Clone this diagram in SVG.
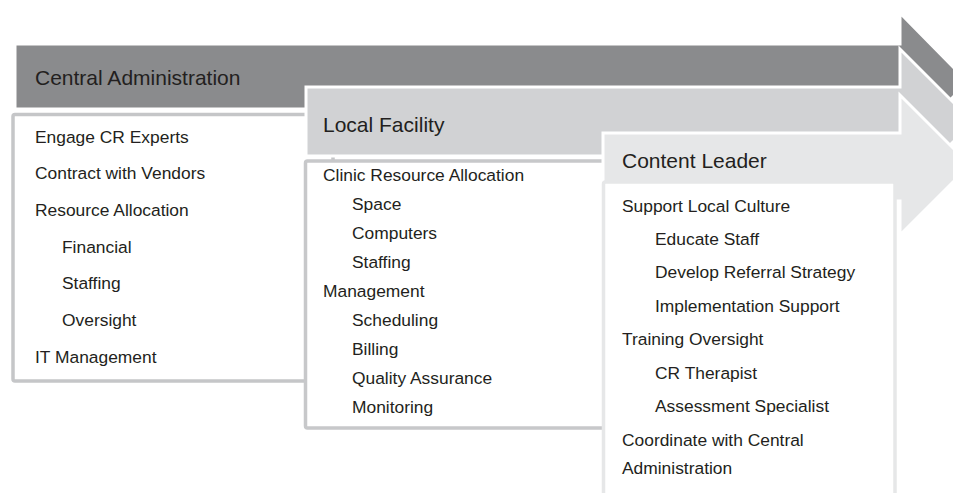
<svg xmlns="http://www.w3.org/2000/svg" width="953" height="493" viewBox="0 0 953 493">
<style>
.hdr{font-family:"Liberation Sans",Arial,sans-serif;font-size:21px;fill:#231f20}
.itm{font-family:"Liberation Sans",Arial,sans-serif;font-size:17.4px;fill:#231f20}
.arrow{stroke:#fff;stroke-width:3;stroke-linejoin:miter}
.box{fill:#fff;stroke-width:3.5}
</style>
<rect width="953" height="493" fill="#fff"/>
<g id="central-administration">
<path class="arrow" d="M15,44 H900 V13 L968,82 L900,151 V109 H15 Z" fill="#8a8b8d"/>
<text class="hdr" x="35" y="85">Central Administration</text>
<rect class="box" x="13" y="114.5" width="320" height="266.5" rx="2" stroke="#c5c6c8"/>
<text class="itm" x="35" y="142.5">Engage CR Experts</text>
<text class="itm" x="35" y="179.2">Contract with Vendors</text>
<text class="itm" x="35" y="215.9">Resource Allocation</text>
<text class="itm" x="62" y="252.6">Financial</text>
<text class="itm" x="62" y="289.3">Staffing</text>
<text class="itm" x="62" y="326">Oversight</text>
<text class="itm" x="35" y="362.7">IT Management</text>
</g>
<g id="local-facility">
<path class="arrow" d="M306,87 H900 V49 L973,122 L900,195 V156 H306 Z" fill="#d1d2d4"/>
<text class="hdr" x="323" y="131.5">Local Facility</text>
<rect class="box" x="305.5" y="161" width="400" height="267" rx="2" stroke="#c7c8ca"/>
<text class="itm" x="323" y="180.5">Clinic Resource Allocation</text>
<text class="itm" x="352" y="209.6">Space</text>
<text class="itm" x="352" y="238.7">Computers</text>
<text class="itm" x="352" y="267.8">Staffing</text>
<text class="itm" x="323" y="296.9">Management</text>
<text class="itm" x="352" y="326">Scheduling</text>
<text class="itm" x="352" y="355.1">Billing</text>
<text class="itm" x="352" y="384.2">Quality Assurance</text>
<text class="itm" x="352" y="413.3">Monitoring</text>
</g>
<g id="content-leader">
<path class="arrow" d="M603,133 H900 V95 L970,165 L900,235 V201 H603 Z" fill="#e6e7e8"/>
<text class="hdr" x="622" y="167.5">Content Leader</text>
<rect class="box" x="603.5" y="182" width="291.5" height="400" rx="2" stroke="#e6e7e8"/>
<text class="itm" x="622" y="211.7">Support Local Culture</text>
<text class="itm" x="655" y="245">Educate Staff</text>
<text class="itm" x="655" y="278.3">Develop Referral Strategy</text>
<text class="itm" x="655" y="311.7">Implementation Support</text>
<text class="itm" x="622" y="345">Training Oversight</text>
<text class="itm" x="655" y="379">CR Therapist</text>
<text class="itm" x="655" y="412.3">Assessment Specialist</text>
<text class="itm" x="622" y="446">Coordinate with Central</text>
<text class="itm" x="622" y="474">Administration</text>
</g>
<g id="connectors"></g>
</svg>
